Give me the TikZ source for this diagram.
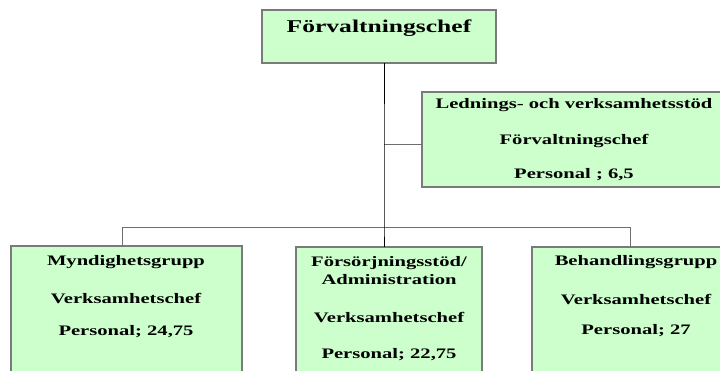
\documentclass[tikz,border=0pt]{standalone}
\usepackage{fontspec}
\setmainfont{Liberation Serif}[FakeStretch=1.42]
\definecolor{boxfill}{HTML}{CCFFCC}
\definecolor{boxline}{HTML}{7A7A7A}
\definecolor{linkgray}{HTML}{6E6E6E}
\begin{document}
\begin{tikzpicture}[x=1pt,y=-1pt,
  unit/.style={draw=boxline,line width=1.4pt,fill=boxfill,inner sep=0pt,outer sep=0pt},
  lbl/.style={inner sep=0pt,font=\fontsize{14.5}{18}\selectfont\bfseries,align=center},
  ttl/.style={inner sep=0pt,font=\fontsize{18}{22}\selectfont\bfseries},
  trunk/.style={draw=black,line width=1pt},
  branch/.style={draw=linkgray,line width=1pt}]
\useasboundingbox (0,0) rectangle (720,370);
\clip (0,0) rectangle (720,370);

% boxes
\node[unit,minimum width=234pt,minimum height=53pt] (chef) at (379,36.5) {};
\node[unit,minimum width=304pt,minimum height=95pt] (stod) at (574,139.5) {};
\node[unit,minimum width=231pt,minimum height=134pt] (mynd) at (126.5,313) {};
\node[unit,minimum width=186pt,minimum height=133pt] (fors) at (389,313.5) {};
\node[unit,minimum width=208pt,minimum height=133pt] (beh) at (636,313.5) {};

% junction points
\coordinate (j1) at (384,144);
\coordinate (bl) at (122,227);
\coordinate (bm) at (384,227);
\coordinate (br) at (630,227);

% connectors
\draw[branch] (j1) -- (j1 -| stod.west);
\draw[branch] (mynd.north -| bl) -- (bl) -- (br) -- (beh.north -| br);
\draw[trunk] (chef.south -| j1) -- (j1) -- (bm) -- (fors.north -| bm);

% texts
\node[ttl] (chefT) at (379,28) {Förvaltningschef};

\node[lbl] (stodA) at (574,105) {Lednings- och verksamhetsstöd};
\node[lbl] (stodB) at (574,141) {Förvaltningschef};
\node[lbl] (stodC) at (574,175) {Personal ; 6,5};

\node[lbl] (myndA) at (126,262) {Myndighetsgrupp};
\node[lbl] (myndB) at (126,298) {Verksamhetschef};
\node[lbl] (myndC) at (126,332) {Personal; 24,75};

\node[lbl] (forsA) at (389,271) {Försörjningsstöd/\\Administration};
\node[lbl] (forsB) at (389,317) {Verksamhetschef};
\node[lbl] (forsC) at (389,355) {Personal; 22,75};

\node[lbl] (behA) at (636,262) {Behandlingsgrupp};
\node[lbl] (behB) at (636,299) {Verksamhetschef};
\node[lbl] (behC) at (636,331) {Personal; 27};
\end{tikzpicture}
\end{document}
